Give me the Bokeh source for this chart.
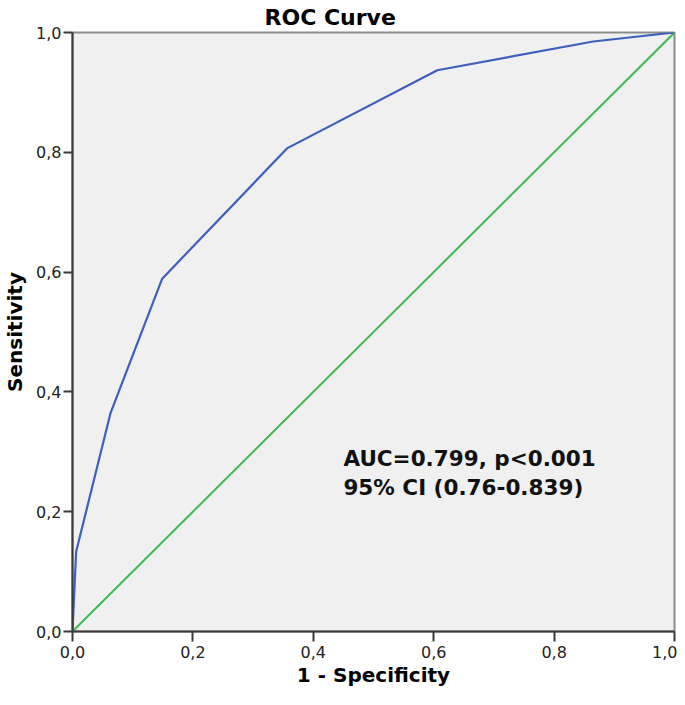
from bokeh.plotting import figure
from bokeh.models import Range1d, FixedTicker, CustomJSTickFormatter, Label
from bokeh.embed import file_html
from bokeh.resources import INLINE

# ROC curve data
fpr = [0.0, 0.006, 0.063, 0.149, 0.357, 0.606, 0.865, 1.0]
tpr = [0.0, 0.133, 0.364, 0.589, 0.807, 0.937, 0.985, 1.0]
ref_x = [0.0, 1.0]
ref_y = [0.0, 1.0]
ticks = [0.0, 0.2, 0.4, 0.6, 0.8, 1.0]
title_text = "ROC Curve"
x_label = "1 - Specificity"
y_label = "Sensitivity"
annotation_lines = ["AUC=0.799, p<0.001", "95% CI (0.76-0.839)"]

p = figure(width=677, height=689, output_backend="svg", toolbar_location=None,
           x_range=Range1d(0, 1), y_range=Range1d(0, 1),
           min_border_left=72, min_border_right=3, min_border_top=31, min_border_bottom=57)
p.background_fill_color = "#f0f0f0"
p.border_fill_color = "white"
p.outline_line_color = "#8c8c8c"
p.outline_line_width = 2
p.grid.visible = False

p.title.text = title_text
p.title.align = "left"
p.title.offset = 192
p.title.standoff = 5
p.title.text_font = "DejaVu Sans"
p.title.text_font_style = "bold"
p.title.text_font_size = "22px"
p.title.text_color = "black"

p.line(ref_x, ref_y, line_color="#3cb94c", line_width=2)
p.line(fpr, tpr, line_color="#3f5fbf", line_width=2.2)

fmt = CustomJSTickFormatter(code="return tick.toFixed(1).replace('.', ',');")
for ax in (p.xaxis[0], p.yaxis[0]):
    ax.ticker = FixedTicker(ticks=ticks)
    ax.formatter = fmt
    ax.minor_tick_line_color = None
    ax.major_tick_in = 0
    ax.axis_line_color = "#3a3a3a"
    ax.axis_line_width = 2
    ax.major_tick_line_color = "#3a3a3a"
    ax.major_tick_line_width = 2
    ax.major_label_text_font = "DejaVu Sans"
    ax.major_label_text_font_size = "16px"
    ax.major_label_text_color = "#222222"
    ax.axis_label_text_font = "DejaVu Sans"
    ax.axis_label_text_font_style = "bold"
    ax.axis_label_text_font_size = "20px"
    ax.axis_label_text_color = "black"

p.xaxis[0].axis_label = x_label
p.xaxis[0].major_tick_out = 10
p.xaxis[0].major_label_standoff = 4
p.xaxis[0].axis_label_standoff = 2
p.yaxis[0].axis_label = y_label
p.yaxis[0].major_tick_out = 9
p.yaxis[0].major_label_standoff = 2
p.yaxis[0].axis_label_standoff = 6

for i, line in enumerate(annotation_lines):
    p.add_layout(Label(x=0.450, y=0.288 - i * 0.0483, text=line, text_align="left",
                       text_baseline="alphabetic", text_font="DejaVu Sans",
                       text_font_style="bold", text_font_size="21.5px", text_color="#111111"))

open("out.html", "w").write(file_html(p, INLINE))
